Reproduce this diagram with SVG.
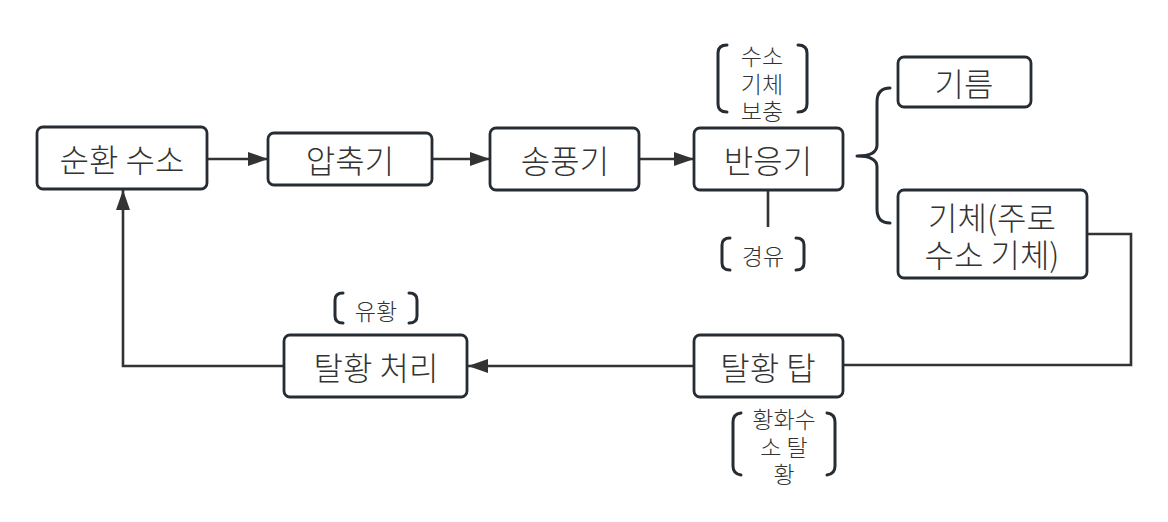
<svg xmlns="http://www.w3.org/2000/svg" width="1168" height="522" viewBox="0 0 1168 522">
<defs>
<style>
.box{fill:#fff;stroke:#262c33;stroke-width:2.8;}
.t{font-family:"Noto Sans CJK KR","Noto Sans",sans-serif;font-weight:300;fill:#333;text-anchor:middle;dominant-baseline:central;}
.big{font-size:32px;}
.sm{font-size:23px;}
.ln{fill:none;stroke:#333;stroke-width:2.6;}
.br{fill:none;stroke:#262c33;stroke-width:3;stroke-linecap:round;stroke-linejoin:round;}
</style>
<marker id="arr" viewBox="0 0 20 14" refX="20" refY="7" markerWidth="20" markerHeight="14" markerUnits="userSpaceOnUse" orient="auto">
<path d="M0,0 L20,7 L0,14 Z" fill="#333"/>
</marker>
</defs>
<rect width="1168" height="522" fill="#fff"/>
<g id="connectors">
<path class="ln" d="M207,159 L268,159" marker-end="url(#arr)"/>
<path class="ln" d="M432,159 L490,159" marker-end="url(#arr)"/>
<path class="ln" d="M639,159 L694,159" marker-end="url(#arr)"/>
<path class="ln" d="M768,190 L768,227"/>
<path class="ln" d="M1087,234 L1131,234 L1131,365 L843,365"/>
<path class="ln" d="M694,366 L468,366" marker-end="url(#arr)"/>
<path class="ln" d="M284,366 L123,366 L123,190" marker-end="url(#arr)"/>
</g>
<g id="n-circulation">
<rect class="box" x="37" y="127" width="170" height="62" rx="6"/>
<text class="t big" x="122" y="158">순환 수소</text>
</g>
<g id="n-compressor">
<rect class="box" x="268" y="133" width="164" height="52" rx="6"/>
<text class="t big" x="350" y="159">압축기</text>
</g>
<g id="n-blower">
<rect class="box" x="490" y="128" width="149" height="62" rx="6"/>
<text class="t big" x="565" y="159">송풍기</text>
</g>
<g id="n-reactor">
<rect class="box" x="694" y="128" width="149" height="62" rx="6"/>
<text class="t big" x="768" y="159">반응기</text>
</g>
<g id="n-h2-supply">
<path class="br" d="M727,45 Q718,45 718,53 L718,104 Q718,112 727,112"/>
<path class="br" d="M798,45 Q807,45 807,53 L807,104 Q807,112 798,112"/>
<text class="t sm" x="762" y="55">수소</text>
<text class="t sm" x="762" y="83">기체</text>
<text class="t sm" x="762" y="110">보충</text>
</g>
<g id="n-diesel">
<path class="br" d="M730,238 Q722,238 722,245 L722,263 Q722,270 730,270"/>
<path class="br" d="M796,238 Q804,238 804,245 L804,263 Q804,270 796,270"/>
<text class="t sm" x="763" y="255">경유</text>
</g>
<g id="n-brace">
<path class="br" d="M890,88 Q877,88 877,102 L877,145 Q877,156 857,156 Q877,156 877,167 L877,209 Q877,223 890,223"/>
</g>
<g id="n-oil">
<rect class="box" x="898" y="57" width="133" height="50" rx="6"/>
<text class="t big" x="964" y="82">기름</text>
</g>
<g id="n-gas">
<rect class="box" x="898" y="190" width="189" height="88" rx="6"/>
<text class="t big" x="992" y="216">기체(주로</text>
<text class="t big" x="992" y="253">수소 기체)</text>
</g>
<g id="n-desulf-tower">
<rect class="box" x="694" y="335" width="149" height="62" rx="6"/>
<text class="t big" x="768" y="366">탈황 탑</text>
</g>
<g id="n-h2s">
<path class="br" d="M741,413 Q733,414 733,422 L733,466 Q733,474 741,475"/>
<path class="br" d="M827,413 Q835,414 835,422 L835,466 Q835,474 827,475"/>
<text class="t sm" x="784" y="418">황화수</text>
<text class="t sm" x="784" y="446">소 탈</text>
<text class="t sm" x="784" y="473">황</text>
</g>
<g id="n-desulf-process">
<rect class="box" x="284" y="335" width="183" height="62" rx="6"/>
<text class="t big" x="376" y="366">탈황 처리</text>
</g>
<g id="n-sulfur">
<path class="br" d="M343,293 Q335,293 335,300 L335,316 Q335,323 343,323"/>
<path class="br" d="M409,293 Q417,293 417,300 L417,316 Q417,323 409,323"/>
<text class="t sm" x="376" y="310">유황</text>
</g>
</svg>
